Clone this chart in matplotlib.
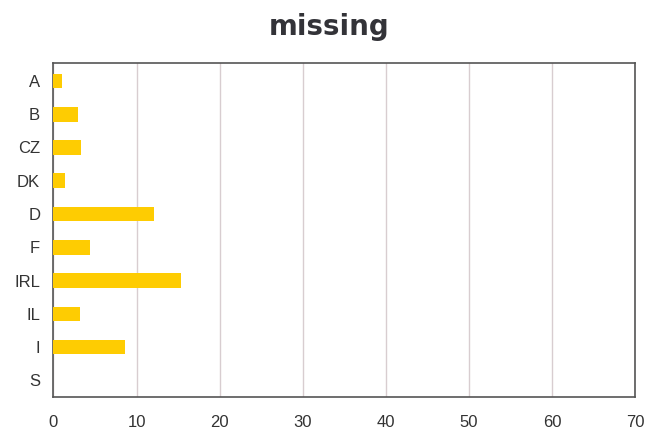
import matplotlib

matplotlib.use("Agg")
import matplotlib.pyplot as plt

# values
countries = ["A", "B", "CZ", "DK", "D", "F", "IRL", "IL", "I", "S"]
missing = [1.0, 3.0, 3.3, 1.4, 12.1, 4.4, 15.4, 3.2, 8.6, 0.0]
x_ticks = [0, 10, 20, 30, 40, 50, 60, 70]

fig = plt.figure(figsize=(6.59, 4.32), dpi=100)
ax = fig.add_axes([0.081, 0.081, 0.883, 0.774])

pos = list(range(len(countries)))
ax.barh(pos, missing, height=0.44, color="#fecc02", zorder=3)

ax.set_xlim(0, 70)
ax.set_ylim(len(countries) - 0.5, -0.55)
ax.set_xticks(x_ticks)
ax.set_yticks(pos)
ax.set_yticklabels(countries)

for lab in ax.get_xticklabels() + ax.get_yticklabels():
    lab.set_family("Liberation Sans")
    lab.set_fontsize(12)
    lab.set_color("#333333")
ax.tick_params(length=0)
ax.tick_params(axis="x", pad=13)
ax.tick_params(axis="y", pad=9.5)

ax.grid(axis="x", color="#d8cdd0", linewidth=1, zorder=0)
for s in ax.spines.values():
    s.set_color("#555555")
    s.set_linewidth(1.2)

fig.text(0.5, 0.937, "missing", ha="center", va="center",
         fontsize=20, fontweight="bold", color="#333338")

fig.savefig("out.png", dpi=100)
